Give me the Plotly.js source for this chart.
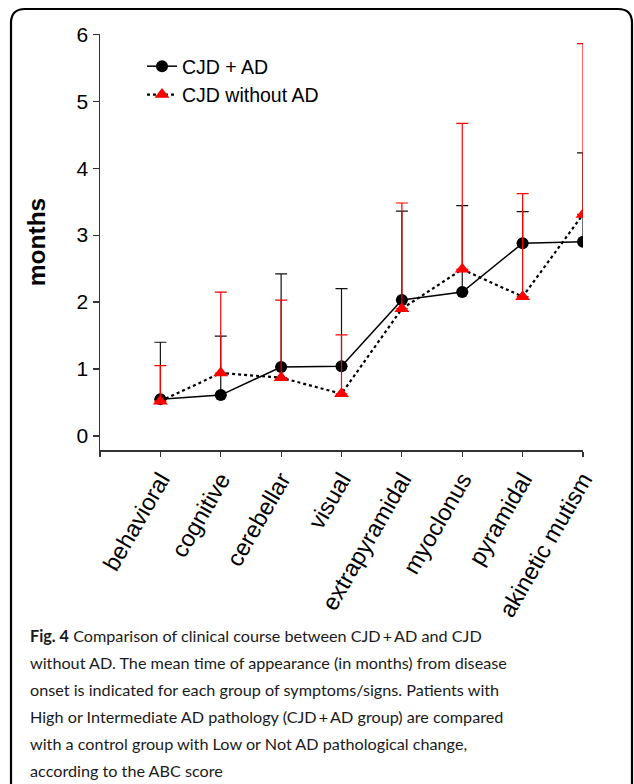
<!DOCTYPE html>
<html>
<head>
<meta charset="utf-8">
<script src="https://cdn.plot.ly/plotly-3.0.1.min.js"></script>
<style>
  html, body { margin: 0; padding: 0; background: #fff; }
  #chart { width: 634px; height: 784px; }
</style>
</head>
<body>
<div id="chart"></div>
<script>
// ---- data ----
const categories = ['behavioral', 'cognitive', 'cerebellar', 'visual',
                    'extrapyramidal', 'myoclonus', 'pyramidal', 'akinetic mutism'];
// CJD + AD : mean months and upper error (SD)
const cjdAdMean = [0.55, 0.61, 1.03, 1.04, 2.03, 2.15, 2.88, 2.90];
const cjdAdErr  = [0.85, 0.88, 1.39, 1.16, 1.33, 1.29, 0.47, 1.33];
// CJD without AD : mean months and upper error (SD)
const cjdNoAdMean = [0.52, 0.94, 0.87, 0.63, 1.90, 2.49, 2.08, 3.31];
const cjdNoAdErr  = [0.53, 1.21, 1.16, 0.88, 1.58, 2.18, 1.54, 2.55];
const yTicks = [0, 1, 2, 3, 4, 5, 6];
const captionLines = [
  '<b>Fig. 4</b> Comparison of clinical course between CJD\u2009+\u2009AD and CJD',
  'without AD. The mean time of appearance (in months) from disease',
  'onset is indicated for each group of symptoms/signs. Patients with',
  'High or Intermediate AD pathology (CJD\u2009+\u2009AD group) are compared',
  'with a control group with Low or Not AD pathological change,',
  'according to the ABC score'
];

// ---- layout geometry ----
const W = 634, H = 784;
const M = { l: 100, r: 51, t: 34, b: 334 };
const plotW = W - M.l - M.r, plotH = H - M.t - M.b;
const px2x = px => (px - M.l) / plotW;
const py2y = py => (H - M.b - py) / plotH;

const xIdx = categories.map((c, i) => i);
const zeros = categories.map(() => 0);
const font = 'Liberation Sans, Arial, sans-serif';

const traces = [
  {
    x: xIdx, y: cjdAdMean, name: 'CJD + AD', type: 'scatter', mode: 'lines+markers',
    line: { color: '#000', width: 1.5 },
    marker: { symbol: 'circle', size: 12, color: '#000' },
    error_y: { type: 'data', symmetric: false, array: cjdAdErr, arrayminus: zeros,
               color: '#111', thickness: 1.2, width: 6 }
  },
  {
    x: xIdx, y: cjdNoAdMean, name: 'CJD without AD', type: 'scatter', mode: 'lines+markers',
    line: { color: '#000', width: 2.2, dash: 'dot' },
    marker: { symbol: 'triangle-up', size: 13, color: '#ff0000' },
    error_y: { type: 'data', symmetric: false, array: cjdNoAdErr, arrayminus: zeros,
               color: '#ff0000', thickness: 1.2, width: 6 }
  }
];

const L = px2x(11), R = px2x(632), T = py2y(9), B = py2y(800);
const rx = 14 / plotW, ry = 14 / plotH;
const borderPath = `M ${L},${B} L ${L},${T - ry} Q ${L},${T} ${L + rx},${T} ` +
                   `L ${R - rx},${T} Q ${R},${T} ${R},${T - ry} L ${R},${B}`;

const captionY = [635, 662, 689, 716, 743, 770];
const annotations = captionLines.map((t, i) => ({
  text: t, xref: 'paper', yref: 'paper', x: px2x(28), y: py2y(captionY[i]),
  xanchor: 'left', yanchor: 'middle', showarrow: false, align: 'left',
  font: { family: 'Lato, Liberation Sans, sans-serif', size: 16.2, color: '#1a1a1a', weight: 400 }
}));

const layout = {
  width: W, height: H,
  margin: M,
  paper_bgcolor: '#fff', plot_bgcolor: '#fff',
  showlegend: true,
  legend: {
    x: px2x(142), y: py2y(47), xanchor: 'left', yanchor: 'top',
    bgcolor: 'rgba(0,0,0,0)', font: { family: font, size: 19.5, color: '#000' }
  },
  xaxis: {
    range: [-1, categories.length - 1],
    tickvals: [-1].concat(xIdx), ticktext: [''].concat(categories),
    tickangle: -60, ticks: 'outside', ticklen: 5, tickwidth: 1.2, tickcolor: '#333',
    showline: true, linecolor: '#333', linewidth: 1.5,
    showgrid: false, zeroline: false,
    tickfont: { family: font, size: 23.5, color: '#000' }
  },
  yaxis: {
    range: [-0.21, 6.005],
    tickvals: yTicks, ticks: 'outside', ticklen: 6, tickwidth: 1.2, tickcolor: '#333',
    showline: true, linecolor: '#333', linewidth: 1.5,
    showgrid: false, zeroline: false,
    tickfont: { family: font, size: 21, color: '#000' },
    title: { text: 'months', standoff: 24, font: { family: font, size: 24.5, color: '#000', weight: 'bold' } }
  },
  shapes: [{
    type: 'path', xref: 'paper', yref: 'paper', path: borderPath,
    line: { color: '#000', width: 2.2 }
  }],
  annotations: annotations
};

Plotly.newPlot('chart', traces, layout, { staticPlot: true, displayModeBar: false });
</script>
</body>
</html>
